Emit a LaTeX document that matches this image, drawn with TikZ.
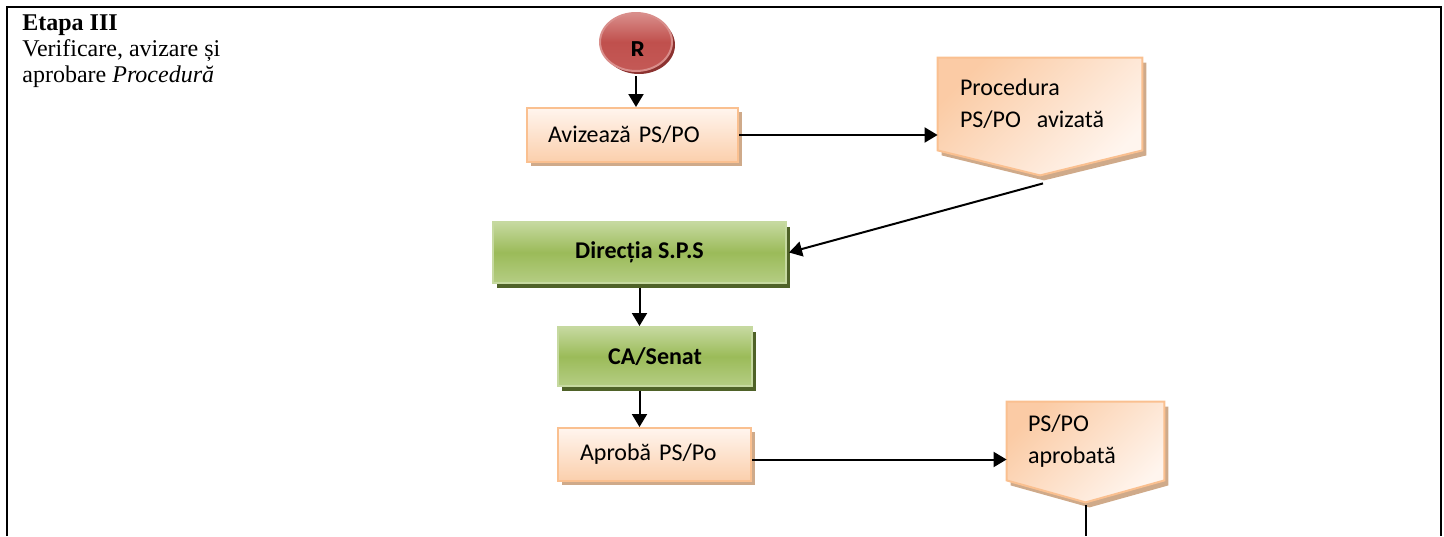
\documentclass[tikz,border=0pt]{standalone}
\usepackage{fontspec}
\setmainfont{Liberation Serif}
\newfontfamily\boxfont{Carlito}
\usetikzlibrary{arrows.meta,shapes.geometric,shadows,backgrounds}

\definecolor{peach}{HTML}{FAC090}
\definecolor{peachlight}{HTML}{FFF5EE}
\definecolor{peachdark}{HTML}{FBCFAC}
\definecolor{peachshadow}{HTML}{CFAA8A}
\definecolor{olivelight}{HTML}{C6D9A0}
\definecolor{olive}{HTML}{9BBB59}
\definecolor{oliveshadow}{HTML}{4F6228}
\definecolor{brick}{HTML}{C0504D}
\definecolor{bricklight}{HTML}{D98E8B}
\definecolor{brickshadow}{HTML}{8C3230}

\tikzset{
    flow/.style={-{Triangle[length=6.5pt,width=7.5pt]}, line width=1pt},
    taskbox/.style={rectangle, draw=peach, line width=1pt,
        top color=peachlight, bottom color=peachdark,
        drop shadow={shadow xshift=2pt, shadow yshift=-2pt, fill=peachshadow, opacity=1},
        font=\boxfont\fontsize{12}{14}\selectfont, align=left, inner xsep=0pt},
    unitbox/.style={rectangle, draw=olivelight, line width=1pt,
        top color=olivelight, bottom color=olivelight!60!olive, middle color=olive,
        drop shadow={shadow xshift=2pt, shadow yshift=-2.5pt, fill=oliveshadow, opacity=1},
        font=\boxfont\bfseries\fontsize{12}{14}\selectfont},
    docbody/.style={rectangle, inner xsep=0pt, align=left,
        font=\boxfont\fontsize{12}{16}\selectfont},
    docshape/.style={draw=peach, line width=1pt,
        left color=peachdark!75!peach, right color=peachlight, shading angle=45,
        drop shadow={shadow xshift=2pt, shadow yshift=-2.5pt, fill=peachshadow, opacity=1}},
    startnode/.style={ellipse, draw=bricklight, line width=1pt,
        top color=bricklight, bottom color=brick!85!bricklight, middle color=brick,
        drop shadow={shadow xshift=1.5pt, shadow yshift=-1.5pt, fill=brickshadow, opacity=1},
        minimum width=36pt, minimum height=29pt, inner sep=0pt}
}

\begin{document}
\begin{tikzpicture}[x=0.5pt, y=-0.5pt]
    \useasboundingbox (0,0) rectangle (1444,536);
    \draw[line width=1.25pt] (7,536) -- (7,7) -- (1441,7) -- (1441,536);

    \node[anchor=north west, align=left, inner sep=0pt,
        font=\fontsize{12}{13}\selectfont] (stage) at (22,14)
        {\textbf{Etapa III}\\Verificare, avizare și\\aprobare \textit{Procedură}};

    \node[startnode, path picture={
        \clip (path picture bounding box.north west) rectangle ([yshift=-6.5pt]path picture bounding box.east);
        \node[font=\boxfont\bfseries\fontsize{13}{15}\selectfont, inner sep=0pt]
            at ([xshift=1pt,yshift=-4pt]path picture bounding box.center) {R};
        }] (start) at (636,42) {};
    \node[taskbox, minimum width=105.5pt, minimum height=27pt, text width=84.5pt] (aviz) at (632.5,135) {Avizează PS/PO};
    \node[docbody, minimum width=102pt, minimum height=46pt, text width=80pt] (doc1) at (1040,104) {Procedura\\PS/PO\ \ avizată};
    \node[unitbox, minimum width=146.5pt, minimum height=30.5pt] (sps) at (639.5,252.5) {Direcția S.P.S};
    \node[unitbox, minimum width=97pt, minimum height=29.5pt] (senat) at (655,356.5) {CA/Senat};
    \node[taskbox, minimum width=96.5pt, minimum height=26.5pt, text width=74.5pt] (aprob) at (654.5,454.5) {Aprobă PS/Po};
    \node[docbody, minimum width=78.5pt, minimum height=39pt, text width=57.5pt] (doc2) at (1085.5,441) {PS/PO\\aprobată};

    \coordinate (tip1) at ([yshift=-12.5pt]doc1.south);
    \coordinate (tip2) at ([yshift=-11pt]doc2.south);
    \coordinate (bottom) at (tip2 |- 0,536);

    \begin{scope}[on background layer]
        \path[docshape] (doc1.north west) -- (doc1.north east) -- (doc1.south east)
            -- (tip1) -- (doc1.south west) -- cycle;
        \path[docshape] (doc2.north west) -- (doc2.north east) -- (doc2.south east)
            -- (tip2) -- (doc2.south west) -- cycle;
    \end{scope}

    \draw[flow] ([yshift=-2pt]start.south) -- (start.south |- aviz.north);
    \draw[flow] (aviz.east) -- (aviz.east -| doc1.west);
    \draw[flow] ([xshift=1.5pt,yshift=-4pt]tip1) -- ([xshift=1pt]sps.east);
    \draw[flow] ([yshift=-2pt]sps.south) -- (sps.south |- senat.north);
    \draw[flow] ([yshift=-2pt]senat.south -| sps.south) -- (aprob.north -| sps.south);
    \draw[flow] ([yshift=-2.5pt]aprob.east) -- ([yshift=-2.5pt]aprob.east -| doc2.west);
    \draw[line width=1pt] ([yshift=-1.5pt]tip2) -- (bottom);
\end{tikzpicture}
\end{document}
